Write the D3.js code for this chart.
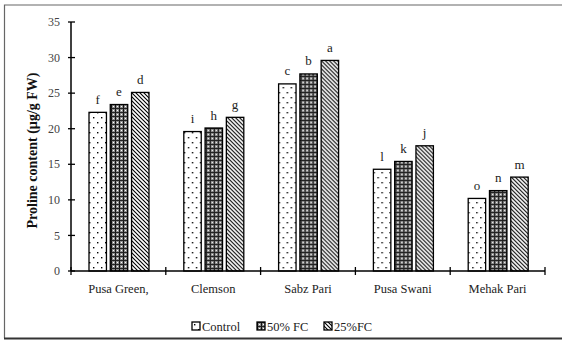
<!DOCTYPE html>
<html>
<head>
<meta charset="utf-8">
<script src="https://cdn.jsdelivr.net/npm/d3@7"></script>
<style>
  body { margin: 0; background: #fff; }
</style>
</head>
<body>
<svg id="chart"></svg>
<script>
var width = 571, height = 344;

// Data
var cultivars = ["Pusa Green,", "Clemson", "Sabz Pari", "Pusa Swani", "Mehak Pari"];
var treatments = ["Control", "50% FC", "25%FC"];
var control = [22.3, 19.6, 26.3, 14.3, 10.2];
var fc50 = [23.4, 20.1, 27.7, 15.4, 11.3];
var fc25 = [25.1, 21.6, 29.6, 17.6, 13.2];
var lettersControl = ["f", "i", "c", "l", "o"];
var letters50 = ["e", "h", "b", "k", "n"];
var letters25 = ["d", "g", "a", "j", "m"];
var yTicks = [0, 5, 10, 15, 20, 25, 30, 35];

var series = [control, fc50, fc25];
var letters = [lettersControl, letters50, letters25];
var patterns = ["pat-dots", "pat-plaid", "pat-hatch"];

var margin = { left: 71, right: 26, top: 22, bottom: 73 };

var svg = d3.select("#chart")
  .attr("width", width)
  .attr("height", height)
  .attr("font-family", "'Liberation Serif', 'Times New Roman', serif");

// Patterns for the bars
var defs = svg.append("defs");

var dots = defs.append("pattern").attr("id", "pat-dots")
  .attr("patternUnits", "userSpaceOnUse").attr("width", 8).attr("height", 10);
dots.append("rect").attr("width", 8).attr("height", 10).attr("fill", "#fff");
dots.append("rect").attr("x", 2).attr("y", 2).attr("width", 1.4).attr("height", 1.4).attr("fill", "#000");
dots.append("rect").attr("x", 6).attr("y", 7).attr("width", 1.4).attr("height", 1.4).attr("fill", "#000");

var plaid = defs.append("pattern").attr("id", "pat-plaid")
  .attr("patternUnits", "userSpaceOnUse").attr("width", 4).attr("height", 4);
plaid.append("rect").attr("width", 4).attr("height", 4).attr("fill", "#8c8c8c");
plaid.append("rect").attr("x", 0).attr("y", 0).attr("width", 1).attr("height", 4).attr("fill", "#111");
plaid.append("rect").attr("x", 0).attr("y", 0).attr("width", 4).attr("height", 1).attr("fill", "#222");
plaid.append("rect").attr("x", 2).attr("y", 2).attr("width", 1).attr("height", 1).attr("fill", "#fff");

var hatch = defs.append("pattern").attr("id", "pat-hatch")
  .attr("patternUnits", "userSpaceOnUse").attr("width", 4).attr("height", 4);
hatch.append("rect").attr("width", 4).attr("height", 4).attr("fill", "#fff");
hatch.append("path").attr("d", "M-1,-1 L5,5 M-1,3 L1,5 M3,-1 L5,1")
  .attr("stroke", "#000").attr("stroke-width", 1.1);

// Frame (no right edge, like the source)
svg.append("path")
  .attr("d", "M562,5 L4.5,5 L4.5,338")
  .attr("fill", "none").attr("stroke", "#666").attr("stroke-width", 1.2);
svg.append("line")
  .attr("x1", 4).attr("x2", 562).attr("y1", 338.5).attr("y2", 338.5)
  .attr("stroke", "#333").attr("stroke-width", 2);

// Scales
var x = d3.scaleBand()
  .domain(cultivars)
  .range([margin.left, width - margin.right]);

var xInner = d3.scaleBand()
  .domain(d3.range(treatments.length))
  .range([18, 78])
  .paddingInner(0.18);

var y = d3.scaleLinear()
  .domain([0, 35])
  .range([height - margin.bottom, margin.top]);

// Bars + letters
var groups = svg.selectAll("g.cultivar")
  .data(cultivars)
  .enter().append("g")
  .attr("class", "cultivar")
  .attr("transform", function (d) { return "translate(" + x(d) + ",0)"; });

groups.each(function (c, ci) {
  var g = d3.select(this);
  series.forEach(function (vals, si) {
    g.append("rect")
      .attr("x", xInner(si))
      .attr("y", y(vals[ci]))
      .attr("width", xInner.bandwidth())
      .attr("height", y(0) - y(vals[ci]))
      .attr("fill", "url(#" + patterns[si] + ")")
      .attr("stroke", "#000")
      .attr("stroke-width", 1.3);
    g.append("text")
      .attr("x", xInner(si) + xInner.bandwidth() / 2)
      .attr("y", y(vals[ci]) - 8.5)
      .attr("text-anchor", "middle")
      .attr("font-size", 13)
      .attr("fill", "#222")
      .text(letters[si][ci]);
  });
});

// Y axis
var yAxis = svg.append("g").attr("transform", "translate(" + margin.left + ",0)");
yAxis.append("line")
  .attr("x1", 0).attr("x2", 0)
  .attr("y1", y(0)).attr("y2", y(35))
  .attr("stroke", "#000").attr("stroke-width", 1.5);
yAxis.selectAll("line.tick")
  .data(yTicks).enter().append("line")
  .attr("class", "tick")
  .attr("x1", -3).attr("x2", 4)
  .attr("y1", function (d) { return y(d); })
  .attr("y2", function (d) { return y(d); })
  .attr("stroke", "#000").attr("stroke-width", 1.3);
yAxis.selectAll("text")
  .data(yTicks).enter().append("text")
  .attr("x", -11)
  .attr("y", function (d) { return y(d); })
  .attr("dy", "0.35em")
  .attr("text-anchor", "end")
  .attr("font-size", 12)
  .attr("fill", "#444")
  .text(function (d) { return d; });

// X axis
var xAxis = svg.append("g");
xAxis.append("line")
  .attr("x1", margin.left).attr("x2", width - margin.right)
  .attr("y1", y(0)).attr("y2", y(0))
  .attr("stroke", "#000").attr("stroke-width", 1.5);
xAxis.selectAll("line.tick")
  .data(cultivars.concat([null])).enter().append("line")
  .attr("class", "tick")
  .attr("x1", function (d) { return d === null ? x.range()[1] : x(d); })
  .attr("x2", function (d) { return d === null ? x.range()[1] : x(d); })
  .attr("y1", y(0) - 4).attr("y2", y(0) + 4)
  .attr("stroke", "#000").attr("stroke-width", 1.3);
xAxis.selectAll("text")
  .data(cultivars).enter().append("text")
  .attr("x", function (d) { return x(d) + x.bandwidth() / 2; })
  .attr("y", y(0) + 22)
  .attr("text-anchor", "middle")
  .attr("font-size", 12.5)
  .attr("fill", "#222")
  .text(function (d) { return d; });

// Y axis title
svg.append("text")
  .attr("transform", "translate(37," + ((y(0) + y(35)) / 2 + 4) + ") rotate(-90)")
  .attr("text-anchor", "middle")
  .attr("font-size", 14)
  .attr("font-weight", "bold")
  .attr("fill", "#111")
  .text("Proline content (µg/g FW)");

// Legend
var legendX = [192, 257, 324];
var legend = svg.selectAll("g.legend")
  .data(treatments).enter().append("g")
  .attr("class", "legend")
  .attr("transform", function (d, i) { return "translate(" + legendX[i] + ",322)"; });
legend.append("rect")
  .attr("width", 8).attr("height", 8)
  .attr("fill", function (d, i) { return "url(#" + patterns[i] + ")"; })
  .attr("stroke", "#000").attr("stroke-width", 1.3);
legend.append("text")
  .attr("x", 10).attr("y", 8.5)
  .attr("font-size", 12.5)
  .attr("fill", "#222")
  .text(function (d) { return d; });
</script>
</body>
</html>
